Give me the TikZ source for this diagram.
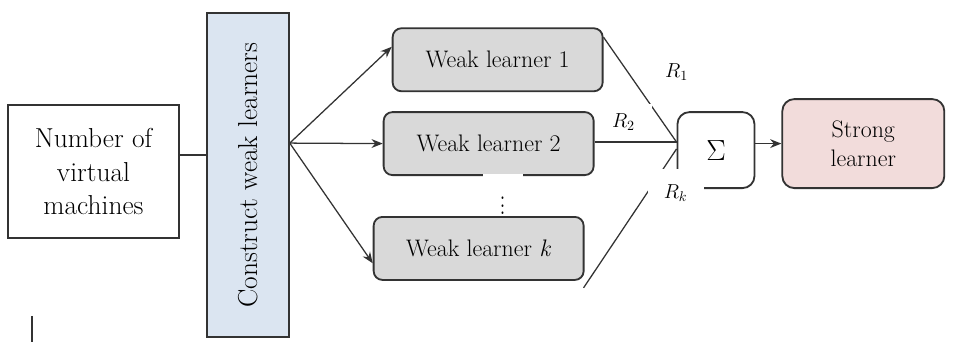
\documentclass[tikz,border=0pt]{standalone}
\usepackage{graphicx}
\usetikzlibrary{arrows.meta,positioning}
\definecolor{EdgeGray}{HTML}{333333}
\definecolor{BuildBlue}{HTML}{DBE5F1}
\definecolor{LearnerGray}{HTML}{D9D9D9}
\definecolor{StrongPink}{HTML}{F2DCDB}
\tikzset{
  flowarrow/.style={-{Stealth[length=2.8mm,width=2.2mm]},line width=0.9pt,draw=EdgeGray},
  flowline/.style={line width=0.9pt,draw=EdgeGray},
  plainbox/.style={draw=EdgeGray,line width=1.3pt,fill=white,align=center,inner sep=0pt,font=\fontsize{19.5}{24}\selectfont},
  buildbox/.style={plainbox,fill=BuildBlue},
  weakbox/.style={draw=EdgeGray,line width=1.3pt,rounded corners=2.2mm,fill=LearnerGray,inner sep=0pt,align=center,minimum width=52.5mm,minimum height=15.75mm,font=\fontsize{17}{21}\selectfont},
  sumbox/.style={weakbox,fill=white,minimum width=19.25mm,minimum height=19mm,rounded corners=3mm,font=\fontsize{20}{24}\selectfont},
  strongbox/.style={weakbox,fill=StrongPink,minimum width=40.5mm,minimum height=22.25mm,rounded corners=3mm},
  rlabel/.style={fill=white,inner sep=0pt,minimum width=14mm,minimum height=11.75mm,font=\fontsize{14}{16}\selectfont},
  dotsbox/.style={fill=white,inner sep=0pt,minimum width=10mm,minimum height=13mm,font=\fontsize{17}{20}\selectfont}
}

\begin{document}
\begin{tikzpicture}
  \useasboundingbox (-23.375mm,42.875mm) rectangle (216.375mm,-42.625mm);

  \node[plainbox,minimum width=42.75mm,minimum height=33.25mm] (vm) at (0,0) {Number of\\virtual\\machines};
  \node[buildbox,minimum width=20.5mm,minimum height=81mm,right=6.5mm of vm,yshift=-0.9mm] (build) {\rotatebox{90}{Construct weak learners}};

  \node[weakbox,right=23.25mm of build,yshift=7.875mm] (wl2) {Weak learner 2};
  \node[weakbox,above=4.75mm of wl2,xshift=2.25mm] (wl1) {Weak learner 1};
  \node[dotsbox] (dots) at ([xshift=3.5mm,yshift=-6mm]wl2.south) {\scalebox{1}[1.35]{$\vdots$}};
  \node[weakbox,below=10mm of wl2,xshift=-2.5mm] (wlk) {Weak learner \textit{k}};

  \node[sumbox,right=20.5mm of wl2,yshift=-1.625mm] (sigma) {$\Sigma$};
  \node[strongbox,right=6.5mm of sigma,yshift=1.625mm] (strong) {Strong\\learner};

  \coordinate (tap) at ([yshift=4.1mm]vm.east);
  \coordinate (fan) at ([yshift=8mm]build.east);
  \coordinate (join) at ([yshift=2mm]sigma.west);
  \coordinate (kjoin) at ([yshift=0.3mm]sigma.west);
  \coordinate (kfoot) at ([xshift=-0.25mm,yshift=-1.75mm]wlk.south east);
  \coordinate (caret) at ([xshift=6.25mm,yshift=-19.25mm]vm.south west);

  \draw[flowline] (tap) -- (tap -| build.west);
  \draw[flowarrow] (fan) -- (wl1.173);
  \draw[flowarrow] (fan) -- (wl2.west);
  \draw[flowarrow] (fan) -- (wlk.188);
  \draw[flowline] (wl1.12) -- (join);
  \draw[flowline] (wl2.east |- join) -- (join);
  \draw[flowline] (kfoot) -- (kjoin);
  \draw[flowarrow] (sigma.east |- strong.west) -- (strong.west);
  \draw[flowline] (caret) -- ++(0,-6.75mm);

  \node[rlabel] (r1) at ([yshift=9.75mm]sigma.north west) {$R_1$};
  \node[rlabel,minimum height=9mm] (r2) at ([xshift=7.25mm,yshift=-2.75mm]wl2.north east) {$R_2$};
  \node[rlabel] (rk) at ([xshift=-0.25mm,yshift=-0.9mm]sigma.south west) {$R_k$};
\end{tikzpicture}
\end{document}
